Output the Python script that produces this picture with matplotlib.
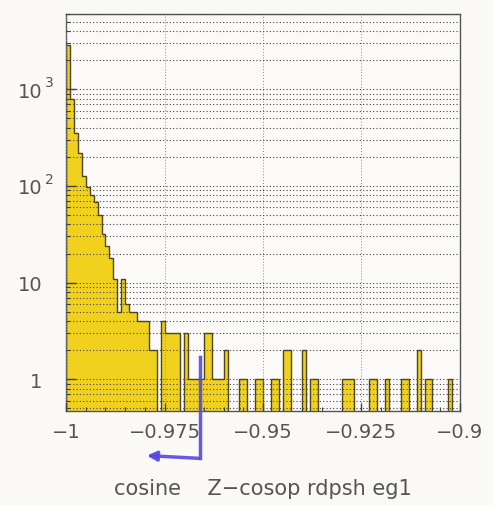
import matplotlib.pyplot as plt
import matplotlib.ticker as ticker
import matplotlib.transforms as mtransforms
import numpy as np

# histogram: 100 bins of width 0.001 between -1 and -0.9
bin_lo = -1.0
bin_hi = -0.9
counts = [
    2900, 790, 350, 220, 126, 97, 80, 69, 50, 32,
    24, 18, 11, 5, 11, 6, 5, 5, 4, 4,
    4, 2, 2, 0, 4, 3, 3, 3, 3, 0,
    3, 1, 1, 1, 1, 3, 3, 1, 1, 1,
    2, 0, 0, 0, 1, 1, 0, 0, 1, 1,
    0, 0, 1, 1, 0, 2, 2, 0, 0, 0,
    2, 0, 1, 1, 0, 0, 0, 0, 0, 0,
    1, 1, 1, 0, 0, 0, 0, 1, 1, 0,
    0, 1, 0, 0, 0, 1, 1, 0, 0, 2,
    0, 1, 1, 0, 0, 0, 0, 1, 0, 0,
]
xticks = [-1, -0.975, -0.95, -0.925, -0.9]
xtick_labels = ["\u22121", "\u22120.975", "\u22120.95", "\u22120.925", "\u22120.9"]
yticks = [1, 10, 100, 1000]
ytick_base = ["1", "10", "10", "10"]
ytick_exp = ["", "", "2", "3"]
xlabel = "cosine    Z\u2212cosop rdpsh eg1"

plt.rcParams['font.family'] = ['DejaVu Sans']

ymin, ymax = 0.47, 6000
edges = np.linspace(bin_lo, bin_hi, len(counts) + 1)
centers = (edges[:-1] + edges[1:]) / 2
width = edges[1] - edges[0]
counts = np.array(counts, dtype=float)

fig = plt.figure(figsize=(4.93, 5.06), dpi=100, facecolor='#fbf9f6')
ax = fig.add_axes([0.134, 0.186, 0.799, 0.784])
ax.set_facecolor('#fbfaf8')

ax.bar(centers, counts, width, color='#f0d21e', linewidth=0, zorder=1)
# outline like a step histogram, empty bins down to the floor
ax.stairs(np.where(counts > 0, counts, ymin * 0.5), edges, baseline=ymin * 0.5,
          color='#4d4620', linewidth=1.0, zorder=2)

ax.set_yscale('log')
ax.set_xlim(bin_lo, bin_hi)
ax.set_ylim(ymin, ymax)

# dotted grid over the bars
ax.grid(True, which='both', axis='y', linestyle=(0, (1, 2)), color='#444444', linewidth=0.8, zorder=3)
ax.grid(True, which='major', axis='x', linestyle=(0, (1, 2)), color='#888888', linewidth=0.7, zorder=3)
ax.set_axisbelow(False)

ax.set_xticks(xticks)
ax.set_xticklabels(xtick_labels)
ax.xaxis.set_minor_locator(ticker.MultipleLocator(0.005))
ax.set_yticks(yticks)
ax.set_yticklabels(ytick_base)
ax.yaxis.set_minor_locator(ticker.LogLocator(base=10, subs=np.arange(2, 10), numticks=20))
ax.yaxis.set_minor_formatter(ticker.NullFormatter())

ax.tick_params(axis='x', which='major', direction='in', length=6, width=1.0, color='#444444',
               labelsize=14, labelcolor='#555555', pad=8)
ax.tick_params(axis='y', which='major', direction='in', length=7, width=1.0, color='#444444',
               labelsize=14, labelcolor='#555555', pad=17)
ax.tick_params(which='minor', direction='in', length=3, width=0.8, color='#444444')
for s in ax.spines.values():
    s.set_color('#555555')
    s.set_linewidth(1.0)

# exponents hang to the right of the "10"
exp_tr = mtransforms.blended_transform_factory(ax.transAxes, ax.transData) + \
    mtransforms.ScaledTranslation(0, 5 / 72, fig.dpi_scale_trans)
for v, e in zip(yticks, ytick_exp):
    if e:
        ax.text(-0.054, v, e, transform=exp_tr, ha='left', va='center',
                fontsize=10, color='#555555')

ax.set_xlabel(xlabel, fontsize=15, color='#555555', labelpad=27)

# hand-drawn blue pen arrow
pen = '#5848e0'
fig.add_artist(plt.Line2D([0.406, 0.406], [0.292, 0.092], color=pen, lw=2.5, alpha=0.9))
ax.annotate('', xy=(0.292, 0.098), xytext=(0.408, 0.092), xycoords='figure fraction',
            textcoords='figure fraction',
            arrowprops=dict(arrowstyle='-|>', color=pen, lw=2.5, mutation_scale=14, alpha=0.9))

fig.savefig('out.png', dpi=100, facecolor=fig.get_facecolor())
